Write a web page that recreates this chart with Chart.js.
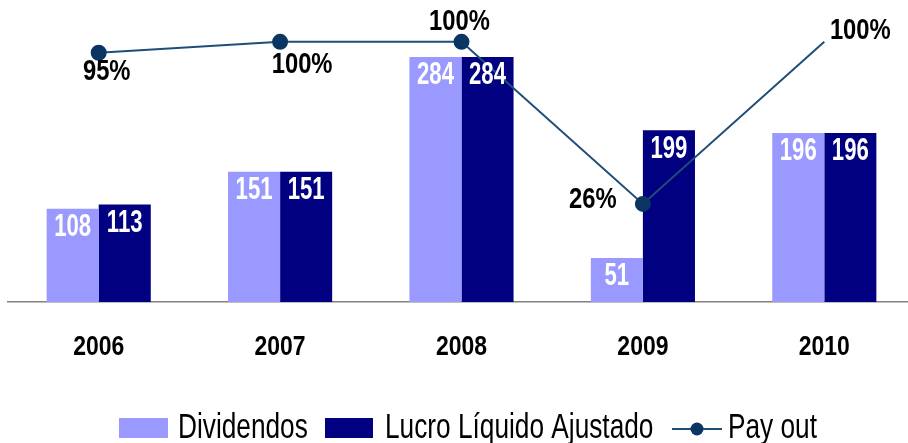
<!DOCTYPE html>
<html>
<head>
<meta charset="utf-8">
<script src="https://cdn.jsdelivr.net/npm/chart.js@4.4.1/dist/chart.umd.min.js"></script>
<style>
  html, body { margin:0; padding:0; background:#fff; overflow:hidden; }
  #wrap { position:relative; width:916px; height:443px; }
</style>
</head>
<body>
<div id="wrap">
  <canvas id="graphicFirst" width="916" height="443"></canvas>
</div>
<script>
//-----Variables
const years = ['2006','2007','2008','2009','2010'];
const dividendos = [108, 151, 284, 51, 196];
const lucroAjustado = [113, 151, 284, 199, 196];
const payout = [95, 100, 100, 26, 100];

const FONT = '"Liberation Sans", Arial, sans-serif';
const NARROW = 0.82;   // fake Arial Narrow by squeezing Liberation Sans

// where each payout label sits relative to its point
const payoutLabelOffset = [[8,19],[22,23],[-2,-20],[-50,-4],[36,-11]];

function drawText(ctx, text, x, y, font, sx, sy, color, baseline){
  ctx.save();
  ctx.translate(x, y);
  ctx.scale(sx, sy);
  ctx.font = font;
  ctx.fillStyle = color;
  ctx.textAlign = 'center';
  ctx.textBaseline = baseline || 'middle';
  ctx.fillText(text, 0, 0);
  ctx.restore();
}

function drawTextLeft(ctx, text, x, y, font, sx, sy, color){
  ctx.save();
  ctx.translate(x, y);
  ctx.scale(sx, sy);
  ctx.font = font;
  ctx.fillStyle = color;
  ctx.textAlign = 'left';
  ctx.textBaseline = 'alphabetic';
  ctx.fillText(text, 0, 0);
  ctx.restore();
}

const labelPlugin = {
  id: 'labelPlugin',
  afterDatasetsDraw(chart){
    const ctx = chart.ctx;
    //----bar values
    [0,1].forEach(function(d){
      chart.getDatasetMeta(d).data.forEach(function(bar, i){
        drawText(ctx, String(chart.data.datasets[d].data[i]), bar.x, bar.y + 19,
          'bold 27px ' + FONT, NARROW, 1.14, '#ffffff');
      });
    });
    //----payout values
    chart.getDatasetMeta(2).data.forEach(function(pt, i){
      const off = payoutLabelOffset[i];
      drawText(ctx, chart.data.datasets[2].data[i] + '%', pt.x + off[0], pt.y + off[1],
        'bold 29px ' + FONT, NARROW, 1.0, '#000000');
    });
    //----years under the axis
    const xs = chart.scales.x;
    chart.data.labels.forEach(function(lab, i){
      drawText(ctx, lab, xs.getPixelForValue(i), chart.chartArea.bottom + 45,
        'bold 28px ' + FONT, NARROW, 1.0, '#000000');
    });
  },
  afterDraw(chart){
    //----legend
    const ctx = chart.ctx;
    const ds = chart.data.datasets;
    const font = '32px ' + FONT;
    const base = 438;
    ctx.save();
    ctx.fillStyle = ds[0].backgroundColor;
    ctx.fillRect(119, 418, 49, 20);
    drawTextLeft(ctx, ds[0].label, 178, base, font, NARROW, 1.1, '#000');
    ctx.fillStyle = ds[1].backgroundColor;
    ctx.fillRect(325, 418, 48, 20);
    drawTextLeft(ctx, ds[1].label, 385, base, font, NARROW, 1.1, '#000');
    ctx.strokeStyle = ds[2].borderColor;
    ctx.lineWidth = 2;
    ctx.beginPath();
    ctx.moveTo(672, 429);
    ctx.lineTo(722, 429);
    ctx.stroke();
    ctx.fillStyle = ds[2].pointBackgroundColor;
    ctx.beginPath();
    ctx.arc(697, 429, 6.5, 0, Math.PI * 2);
    ctx.fill();
    drawTextLeft(ctx, ds[2].label, 728, base, font, NARROW, 1.1, '#000');
    ctx.restore();
  }
};

var ctx = document.getElementById('graphicFirst').getContext('2d');
var chart1 = new Chart(ctx, {
  data: {
    labels: years,
    datasets: [
      {
        type: 'bar',
        label: 'Dividendos',
        data: dividendos,
        backgroundColor: '#9999ff',
        yAxisID: 'y',
        barPercentage: 1,
        categoryPercentage: 0.574,
        order: 2,
      },
      {
        type: 'bar',
        label: 'Lucro Líquido Ajustado',
        data: lucroAjustado,
        backgroundColor: '#000080',
        yAxisID: 'y',
        barPercentage: 1,
        categoryPercentage: 0.574,
        order: 2,
      },
      {
        type: 'line',
        label: 'Pay out',
        data: payout,
        borderColor: '#1f4e79',
        borderWidth: 2,
        pointBackgroundColor: '#0b3563',
        pointBorderColor: '#0b3563',
        pointRadius: [7,7,7,7,0],
        tension: 0,
        fill: false,
        clip: false,
        yAxisID: 'y2',
        order: 1,
      },
    ]
  },
  options: {
    responsive: false,
    animation: false,
    layout: { autoPadding: false, padding: { left: 8, right: 1, top: 0, bottom: 141 } },
    plugins: {
      legend: { display: false },
      tooltip: { enabled: false },
    },
    scales: {
      x: {
        grid: { display: false, drawTicks: false },
        border: { display: true, color: '#808080', width: 1.5 },
        ticks: { display: false },
      },
      y: { display: false, min: 0, max: 350 },
      y2: { display: false, min: -18.8, max: 119.1 },
    }
  },
  plugins: [labelPlugin],
});
</script>
</body>
</html>
